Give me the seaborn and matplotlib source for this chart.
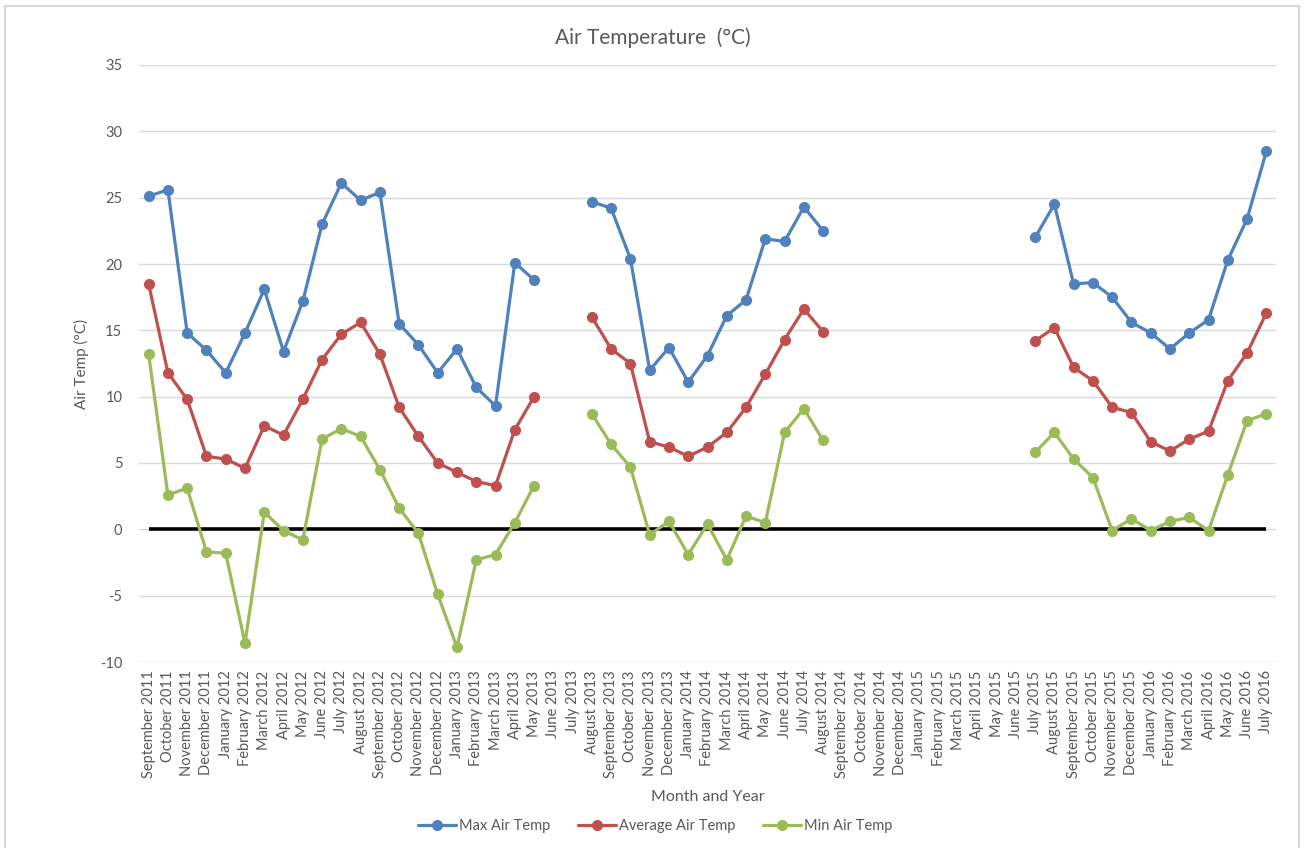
import numpy as np
import pandas as pd
import matplotlib
matplotlib.use("Agg")
import matplotlib.pyplot as plt
from matplotlib.lines import Line2D
from matplotlib.patches import Rectangle
import seaborn as sns

nan = np.nan
months = [
    "September 2011", "October 2011", "November 2011", "December 2011",
    "January 2012", "February 2012", "March 2012", "April 2012", "May 2012",
    "June 2012", "July 2012", "August 2012", "September 2012", "October 2012",
    "November 2012", "December 2012", "January 2013", "February 2013",
    "March 2013", "April 2013", "May 2013", "June 2013", "July 2013",
    "August 2013", "September 2013", "October 2013", "November 2013",
    "December 2013", "January 2014", "February 2014", "March 2014",
    "April 2014", "May 2014", "June 2014", "July 2014", "August 2014",
    "September 2014", "October 2014", "November 2014", "December 2014",
    "January 2015", "February 2015", "March 2015", "April 2015", "May 2015",
    "June 2015", "July 2015", "August 2015", "September 2015", "October 2015",
    "November 2015", "December 2015", "January 2016", "February 2016",
    "March 2016", "April 2016", "May 2016", "June 2016", "July 2016",
]

max_temp = [
    25.1, 25.6, 14.8, 13.5, 11.8, 14.8, 18.1, 13.4, 17.2, 23.0, 26.1, 24.8,
    25.4, 15.5, 13.9, 11.8, 13.6, 10.7, 9.3, 20.1, 18.8, nan, nan,
    24.7, 24.2, 20.4, 12.0, 13.7, 11.1, 13.1, 16.1, 17.3, 21.9, 21.7, 24.3, 22.5,
    nan, nan, nan, nan, nan, nan, nan, nan, nan, nan,
    22.0, 24.5, 18.5, 18.6, 17.5, 15.6, 14.8, 13.6, 14.8, 15.8, 20.3, 23.4, 28.5,
]
avg_temp = [
    18.5, 11.8, 9.8, 5.5, 5.3, 4.6, 7.8, 7.1, 9.8, 12.8, 14.7, 15.6,
    13.2, 9.2, 7.0, 5.0, 4.3, 3.6, 3.3, 7.5, 10.0, nan, nan,
    16.0, 13.6, 12.5, 6.6, 6.2, 5.5, 6.2, 7.3, 9.2, 11.7, 14.3, 16.6, 14.9,
    nan, nan, nan, nan, nan, nan, nan, nan, nan, nan,
    14.2, 15.2, 12.2, 11.2, 9.2, 8.8, 6.6, 5.9, 6.8, 7.4, 11.2, 13.3, 16.3,
]
min_temp = [
    13.2, 2.6, 3.1, -1.7, -1.8, -8.6, 1.3, -0.1, -0.8, 6.8, 7.6, 7.0,
    4.5, 1.6, -0.3, -4.9, -8.9, -2.3, -1.9, 0.5, 3.3, nan, nan,
    8.7, 6.4, 4.7, -0.4, 0.6, -1.9, 0.4, -2.3, 1.0, 0.5, 7.3, 9.1, 6.7,
    nan, nan, nan, nan, nan, nan, nan, nan, nan, nan,
    5.8, 7.3, 5.3, 3.9, -0.1, 0.8, -0.1, 0.6, 0.9, -0.1, 4.1, 8.2, 8.7,
]

series_names = ["Max Air Temp", "Average Air Temp", "Min Air Temp"]
colors = ["#4F81BD", "#C0504D", "#9BBB59"]
text_color = "#595959"

# long-format table with segment ids so gaps are not bridged
rows = []
for name, vals in zip(series_names, [max_temp, avg_temp, min_temp]):
    seg = 0
    prev_nan = False
    for i, v in enumerate(vals):
        if np.isnan(v):
            prev_nan = True
            continue
        if prev_nan:
            seg += 1
            prev_nan = False
        rows.append({"idx": i, "month": months[i], "value": v, "series": name, "seg": seg})
df = pd.DataFrame(rows)

sns.set_theme(style="white")
plt.rcParams["font.family"] = ["Lato", "DejaVu Sans"]
plt.rcParams["axes.unicode_minus"] = False

fig = plt.figure(figsize=(13.06, 8.48), dpi=100)
ax = fig.add_axes([139 / 1306, 1 - 662 / 848, (1276 - 139) / 1306, (662 - 65) / 848])

# gridlines
ax.set_ylim(-10, 35)
ax.set_yticks(np.arange(-10, 36, 5))
ax.yaxis.grid(True, color="#d9d9d9", linewidth=1.0)
ax.set_axisbelow(True)

# zero line
ax.hlines(0, 0, len(months) - 1, color="black", linewidth=2.6, zorder=2)

sns.lineplot(
    data=df, x="idx", y="value", hue="series", units="seg", estimator=None,
    palette=dict(zip(series_names, colors)), hue_order=series_names,
    marker="o", markersize=8, markeredgewidth=0, linewidth=2.3,
    legend=False, ax=ax, zorder=3,
)

ax.set_xlim(-0.5, len(months) - 0.5)
ax.set_xticks(range(len(months)))
ax.set_xticklabels(months, rotation=90, fontsize=10.5, color=text_color)
ax.tick_params(axis="y", labelsize=10.5, labelcolor=text_color, length=0, pad=12)
ax.tick_params(axis="x", length=0, pad=6)
for s in ax.spines.values():
    s.set_visible(False)

ax.set_xlabel("")
ax.set_ylabel("Air Temp (°C)", fontsize=11, color=text_color, labelpad=8)
fig.text(0.5 * (139 + 1276) / 1306, 1 - 797 / 848, "Month and Year",
         ha="center", va="center", fontsize=11.5, color=text_color)
fig.text(653 / 1306, 1 - 38 / 848, "Air Temperature  (°C)",
         ha="center", va="center", fontsize=15, color=text_color)

handles = [Line2D([0], [0], color=c, marker="o", markersize=8, markeredgewidth=0,
                  linewidth=2.3) for c in colors]
fig.legend(handles, series_names, loc="center", bbox_to_anchor=(655 / 1306, 1 - 826 / 848),
           ncol=3, frameon=False, fontsize=10.5, labelcolor=text_color,
           handlelength=2.6, handletextpad=0.2, columnspacing=1.9)

fig.patches.append(Rectangle((5 / 1306, -0.01), (1299 - 5) / 1306, 1.01 - 6 / 848,
                             transform=fig.transFigure, fill=False,
                             edgecolor="#d9d9d9", linewidth=1.5))

fig.savefig("out.png", dpi=100, facecolor="white")
